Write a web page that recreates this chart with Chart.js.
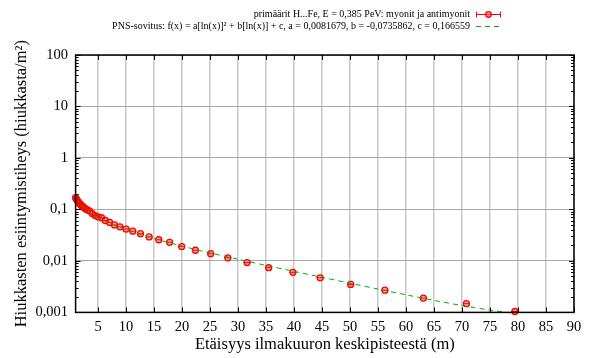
<!DOCTYPE html>
<html>
<head>
<meta charset="utf-8">
<script src="https://cdn.jsdelivr.net/npm/chart.js@4.4.1/dist/chart.umd.min.js"></script>
<style>
  html, body { margin: 0; padding: 0; background: #fff; }
  #wrap { width: 595px; height: 358px; }
</style>
</head>
<body>
<div id="wrap"><canvas id="myChart"></canvas></div>
<script>
// etäisyys (m) ja esiintymistiheys (hiukkasta/m²)
const distX = [1.000, 1.122, 1.259, 1.413, 1.585, 1.778, 1.995, 2.239, 2.512, 2.818,
               3.162, 3.548, 3.981, 4.467, 5.012, 5.623, 6.310, 7.079, 7.943, 8.913,
               10.00, 11.22, 12.59, 14.13, 15.85, 17.78, 19.95, 22.39, 25.12, 28.18,
               31.62, 35.48, 39.81, 44.67, 50.12, 56.23, 63.10, 70.79, 79.43];
const density = [0.170, 0.160, 0.152, 0.143, 0.136, 0.128, 0.121, 0.114, 0.108, 0.102,
                 0.097, 0.093, 0.083, 0.076, 0.072, 0.069, 0.061, 0.056, 0.050, 0.046,
                 0.0415, 0.0378, 0.0338, 0.0293, 0.0258, 0.0230, 0.0190, 0.0161, 0.0138, 0.0115,
                 0.0093, 0.0074, 0.0060, 0.0047, 0.0035, 0.0027, 0.0019, 0.00148, 0.00104];

// sovituskäyrä (luettu kuvasta / legendan kertoimista)
const fitX = [1, 1.25, 1.5, 2, 2.5, 3, 4, 5, 6, 7, 8, 10, 12, 15, 20, 25, 30, 35, 40, 45, 50, 55, 60, 65, 70, 75, 80];
const fitY = [0.1666, 0.1505, 0.1381, 0.1195, 0.1060, 0.0956, 0.0802, 0.0693, 0.0609, 0.0543, 0.0489,
              0.0404, 0.0341, 0.0272, 0.0194, 0.0143, 0.0108, 0.00818, 0.00626, 0.00480, 0.00369,
              0.00284, 0.00220, 0.00171, 0.00136, 0.00111, 0.00094];

const xTicks = [5, 10, 15, 20, 25, 30, 35, 40, 45, 50, 55, 60, 65, 70, 75, 80, 85, 90];
const decades = [-3, -2, -1, 0, 1, 2];
const decadeLabels = ['0,001', '0,01', '0,1', '1', '10', '100'];

const seriesLabel = 'primäärit H...Fe, E = 0,385 PeV: myonit ja antimyonit';
const fitLabel = 'PNS-sovitus: f(x) = a[ln(x)]² + b[ln(x)] + c, a = 0,0081679, b = -0,0735862, c = 0,166559';

const serif = '"Liberation Serif", "DejaVu Serif", serif';
const red = '#ff0000';
const green = '#00b000';

const isDecade = v => Math.abs(Math.log10(v) - Math.round(Math.log10(v))) < 1e-6;

const frame = {
  id: 'frame',
  afterDraw(chart) {
    const { ctx, chartArea: a } = chart;
    const x = chart.scales.x, y = chart.scales.y;
    ctx.save();
    ctx.strokeStyle = '#000';
    ctx.lineWidth = 1;
    ctx.beginPath();
    xTicks.forEach(v => {
      const px = Math.round(x.getPixelForValue(v)) + 0.5;
      ctx.moveTo(px, a.bottom); ctx.lineTo(px, a.bottom - 5);
      ctx.moveTo(px, a.top); ctx.lineTo(px, a.top + 5);
    });
    y.ticks.forEach(t => {
      const py = Math.round(y.getPixelForValue(t.value)) + 0.5;
      const len = isDecade(t.value) ? 5 : 3;
      ctx.moveTo(a.left, py); ctx.lineTo(a.left + len, py);
      ctx.moveTo(a.right, py); ctx.lineTo(a.right - len, py);
    });
    ctx.stroke();
    ctx.lineWidth = 1.5;
    ctx.strokeRect(a.left, a.top, a.right - a.left, a.bottom - a.top);

    // selite
    ctx.font = '10px ' + serif;
    ctx.fillStyle = '#000';
    ctx.textAlign = 'right';
    ctx.textBaseline = 'middle';
    ctx.fillText(seriesLabel, 470, 14.5);
    ctx.fillText(fitLabel, 470, 26);

    ctx.strokeStyle = red;
    ctx.lineWidth = 1;
    ctx.beginPath();
    ctx.moveTo(476, 14.5); ctx.lineTo(501, 14.5);
    ctx.moveTo(476.5, 11.5); ctx.lineTo(476.5, 17.5);
    ctx.moveTo(500.5, 11.5); ctx.lineTo(500.5, 17.5);
    ctx.stroke();
    ctx.beginPath();
    ctx.arc(488.5, 14.5, 2.8, 0, Math.PI * 2);
    ctx.fillStyle = 'rgba(255,90,90,0.5)';
    ctx.fill();
    ctx.lineWidth = 1.3;
    ctx.stroke();

    ctx.strokeStyle = green;
    ctx.lineWidth = 1;
    ctx.setLineDash([5, 4]);
    ctx.beginPath();
    ctx.moveTo(476, 26.5); ctx.lineTo(501, 26.5);
    ctx.stroke();
    ctx.restore();
  }
};

const pts = distX.map((v, i) => ({ x: v, y: density[i] }));
const fitPts = fitX.map((v, i) => ({ x: v, y: fitY[i] }));

const ctx = document.getElementById('myChart').getContext('2d');
const myChart = new Chart(ctx, {
  type: 'scatter',
  plugins: [frame],
  data: {
    datasets: [
      {
        label: fitLabel,
        data: fitPts,
        showLine: true,
        borderColor: green,
        borderWidth: 1,
        borderDash: [5, 4],
        pointRadius: 0,
        tension: 0.3
      },
      {
        label: 'virhepalkit',
        data: pts,
        pointStyle: 'line',
        pointRadius: 3.5,
        borderColor: red,
        pointBorderWidth: 1,
        clip: false
      },
      {
        label: seriesLabel,
        data: pts,
        pointStyle: 'circle',
        pointRadius: 3,
        pointBorderWidth: 1.3,
        borderColor: red,
        backgroundColor: 'rgba(255,90,90,0.5)',
        clip: false
      }
    ]
  },
  options: {
    responsive: true,
    maintainAspectRatio: false,
    animation: false,
    layout: { padding: { left: 11.6, right: 21, top: 55, bottom: 3.6 } },
    plugins: {
      legend: { display: false },
      tooltip: { enabled: false }
    },
    scales: {
      x: {
        type: 'linear',
        min: 1,
        max: 90,
        afterBuildTicks: s => { s.ticks = xTicks.map(v => ({ value: v })); },
        afterFit: s => { s.height = 42; },
        grid: { color: '#c8c8c8', lineWidth: 1.5, drawTicks: false },
        border: { display: false },
        ticks: {
          padding: 6,
          color: '#000',
          font: { family: serif, size: 14.5 },
          autoSkip: false,
          maxRotation: 0
        },
        title: {
          display: true,
          text: 'Etäisyys ilmakuuron keskipisteestä (m)',
          color: '#000',
          padding: 0,
          font: { family: serif, size: 16.5 }
        }
      },
      y: {
        type: 'logarithmic',
        min: 0.001,
        max: 100,
        afterBuildTicks: s => {
          const t = [];
          decades.forEach(e => {
            for (let m = 1; m <= 9; m++) {
              if (e === 2 && m > 1) break;
              t.push({ value: m * Math.pow(10, e) });
            }
          });
          s.ticks = t;
        },
        afterFit: s => { s.width = 64; },
        grid: {
          color: c => (c.tick && isDecade(c.tick.value)) ? '#a8a8a8' : 'rgba(0,0,0,0)',
          lineWidth: 1,
          drawTicks: false
        },
        border: { display: false },
        ticks: {
          padding: 7.5,
          color: '#000',
          autoSkip: false,
          font: { family: serif, size: 14.5 },
          callback: v => {
            if (!isDecade(v)) return '';
            return decadeLabels[decades.indexOf(Math.round(Math.log10(v)))];
          }
        },
        title: {
          display: true,
          text: 'Hiukkasten esiintymistiheys (hiukkasta/m²)',
          color: '#000',
          padding: 0,
          font: { family: serif, size: 16.5 }
        }
      }
    }
  }
});
</script>
</body>
</html>
